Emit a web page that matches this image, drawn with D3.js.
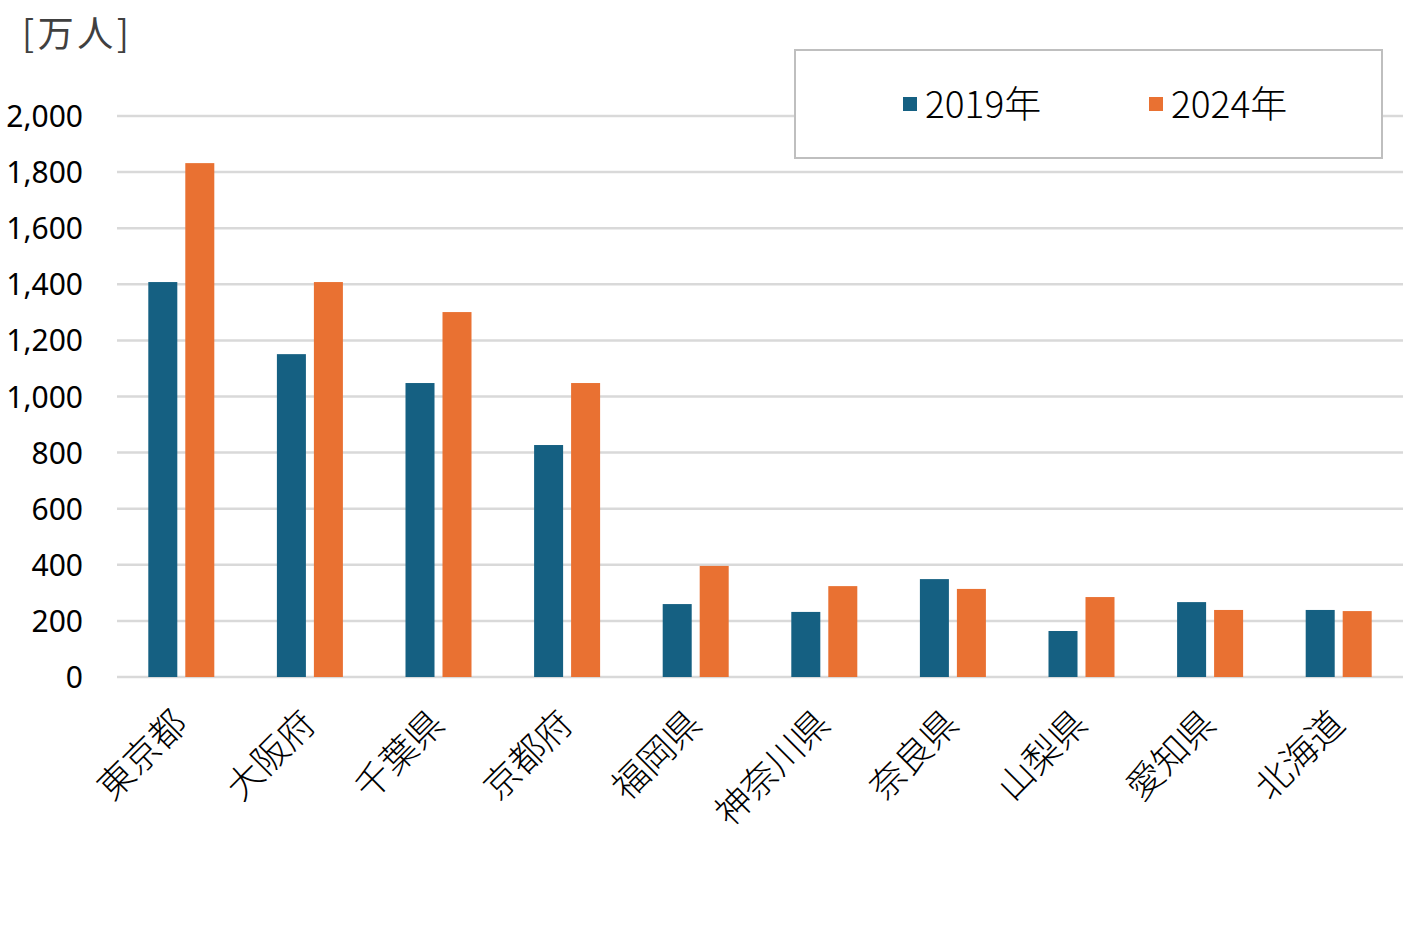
<!DOCTYPE html>
<html><head><meta charset="utf-8">
<script src="https://cdn.jsdelivr.net/npm/d3@7"></script>
<style>
html,body{margin:0;padding:0;background:#fff;}
svg{display:block;font-family:"Noto Sans CJK JP","Noto Sans",sans-serif;}
</style></head>
<body>
<svg id="chart" width="1425" height="935"></svg>
<script>
const categories = ["東京都","大阪府","千葉県","京都府","福岡県","神奈川県","奈良県","山梨県","愛知県","北海道"];
const seriesNames = ["2019年","2024年"];
const values2019 = [1408,1151,1048,827,260,232,349,164,267,239];
const values2024 = [1832,1408,1301,1048,396,324,314,285,239,235];
const yTicks = [0,200,400,600,800,1000,1200,1400,1600,1800,2000];
const colors = ["#156082","#E97132"];
const unitLabel = "[万人]";

(function(){
const svg = d3.select("#chart");
const pLeft = 117, pRight = 1403, pTop = 116, pBottom = 677;

const x = d3.scaleBand().domain(categories).range([pLeft, pRight]).padding(0);
const x1 = d3.scaleBand().domain(seriesNames).range([-33, 33]).paddingInner(0.216);
const y = d3.scaleLinear().domain([0, 2000]).range([pBottom, pTop]);
const color = d3.scaleOrdinal().domain(seriesNames).range(colors);

// gridlines
svg.append("g").selectAll("line").data(yTicks).join("line")
  .attr("x1", pLeft).attr("x2", pRight)
  .attr("y1", d => y(d)).attr("y2", d => y(d))
  .attr("stroke", "#d9d9d9").attr("stroke-width", 2.5);

// y axis labels
const yAxis = d3.axisLeft(y).tickValues(yTicks).tickSize(0).tickPadding(0)
  .tickFormat(d3.format(","));
const gy = svg.append("g").attr("transform", `translate(83,0)`).call(yAxis);
gy.select(".domain").remove();
gy.selectAll("text").attr("font-size", 30).attr("fill", "#000")
  .attr("font-family", "'Noto Sans','Noto Sans CJK JP',sans-serif").attr("dy", "0.35em");

// bars
const data = categories.map((c, i) => ({cat: c, vals: [
  {s: seriesNames[0], v: values2019[i]},
  {s: seriesNames[1], v: values2024[i]}
]}));
const groups = svg.append("g").selectAll("g").data(data).join("g")
  .attr("transform", d => `translate(${x(d.cat) + x.bandwidth()/2},0)`);
groups.selectAll("rect").data(d => d.vals).join("rect")
  .attr("x", d => x1(d.s)).attr("width", x1.bandwidth())
  .attr("y", d => y(d.v)).attr("height", d => y(0) - y(d.v))
  .attr("fill", d => color(d.s));

// x labels
svg.append("g").selectAll("text").data(categories).join("text")
  .attr("transform", d => `translate(${x(d) + x.bandwidth()/2 - 1},${pBottom + 40}) rotate(-45)`)
  .attr("text-anchor", "end").attr("dy", "0.35em")
  .attr("font-size", 36).attr("font-weight", 300).attr("fill", "#000")
  .text(d => d);

// unit label
svg.append("text").attr("x", 22).attr("y", 47).attr("font-size", 36).attr("font-weight", 400)
  .attr("letter-spacing", 3.5)
  .attr("fill", "#404040").text(unitLabel);

// legend
const lg = svg.append("g");
lg.append("rect").attr("x", 795).attr("y", 50).attr("width", 587).attr("height", 108)
  .attr("fill", "#fff").attr("stroke", "#bfbfbf").attr("stroke-width", 2);
const legX = [903, 1149];
seriesNames.forEach((s, i) => {
  lg.append("rect").attr("x", legX[i]).attr("y", 97).attr("width", 14).attr("height", 14).attr("fill", color(s));
  lg.append("text").attr("x", legX[i] + 22).attr("y", 118).attr("font-size", 37).attr("font-weight", 300).attr("fill", "#000").text(s);
});
})();
</script>
</body></html>
